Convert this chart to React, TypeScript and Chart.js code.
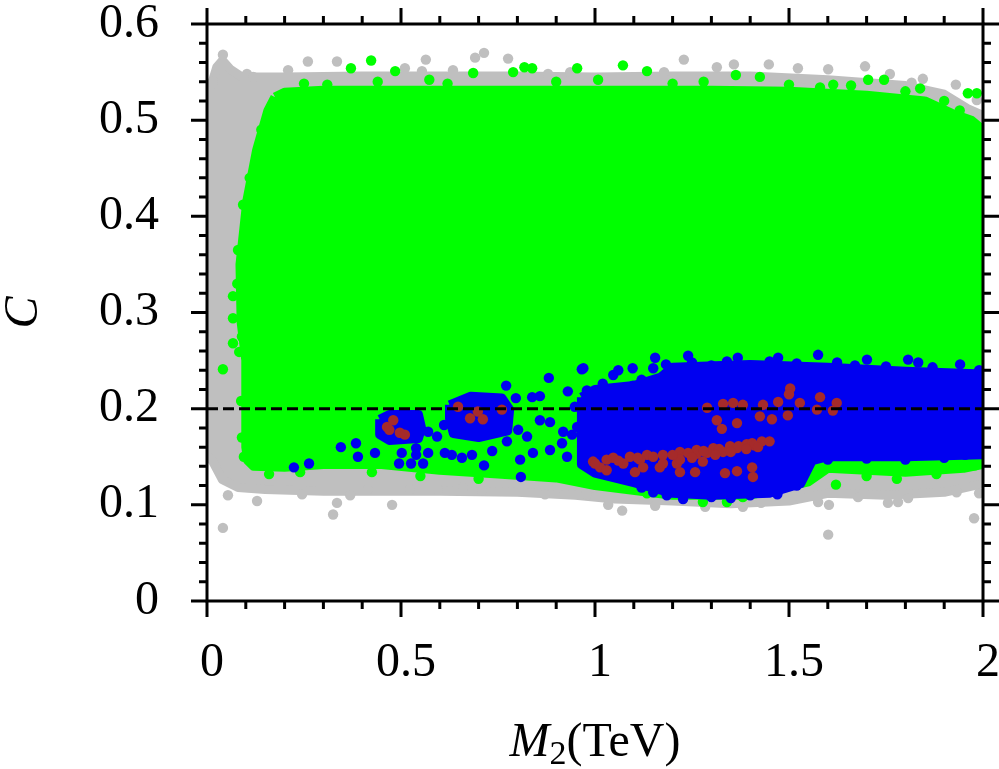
import React, { useEffect, useRef } from 'react';
import { Chart, registerables } from 'chart.js';

Chart.register(...registerables);

// tick positions
const xMajor = [0, 0.5, 1, 1.5, 2];
const xMinor = [0.1, 0.2, 0.3, 0.4, 0.6, 0.7, 0.8, 0.9, 1.1, 1.2, 1.3, 1.4, 1.6, 1.7, 1.8, 1.9];
const yMajor = [0, 0.1, 0.2, 0.3, 0.4, 0.5, 0.6];
const yMinor = [0.02, 0.04, 0.06, 0.08, 0.12, 0.14, 0.16, 0.18, 0.22, 0.24, 0.26, 0.28,
    0.32, 0.34, 0.36, 0.38, 0.42, 0.44, 0.46, 0.48, 0.52, 0.54, 0.56, 0.58];

// outline of the dense grey cloud
const grayCloud = [
    [0.0, 0.525], [0.01, 0.535], [0.025, 0.555], [0.04, 0.562], [0.06, 0.553], [0.09, 0.545],
    [0.2, 0.545], [0.4, 0.546], [0.6, 0.546], [0.8, 0.546], [1.0, 0.545], [1.2, 0.546],
    [1.4, 0.546], [1.6, 0.542], [1.8, 0.536], [1.9, 0.527], [1.96, 0.512], [2.0, 0.505],
    [2.0, 0.122], [1.9, 0.113], [1.75, 0.11], [1.6, 0.112], [1.5, 0.104], [1.35, 0.101],
    [1.2, 0.104], [1.05, 0.106], [0.95, 0.11], [0.8, 0.113], [0.6, 0.114], [0.45, 0.114],
    [0.3, 0.114], [0.15, 0.116], [0.08, 0.118], [0.04, 0.126], [0.015, 0.145], [0.0, 0.152],
    [0.0, 0.525]
];
const graySpots = [
    [0.041, 0.568], [0.015, 0.54], [0.103, 0.548], [0.119, 0.545], [0.209, 0.552], [0.26, 0.561],
    [0.335, 0.561], [0.51, 0.554], [0.564, 0.563], [0.554, 0.551], [0.691, 0.565], [0.714, 0.57],
    [0.776, 0.564], [0.634, 0.552], [0.879, 0.548], [0.936, 0.55], [0.982, 0.54], [1.229, 0.563],
    [1.314, 0.555], [1.358, 0.558], [1.448, 0.558], [1.523, 0.554], [1.601, 0.553], [1.696, 0.556],
    [1.76, 0.548], [1.816, 0.539], [1.845, 0.543], [1.93, 0.537], [1.907, 0.518], [1.984, 0.521],
    [1.178, 0.55], [1.044, 0.543],
    [0.054, 0.11], [0.129, 0.104], [0.245, 0.111], [0.325, 0.09], [0.335, 0.102], [0.369, 0.11],
    [0.477, 0.1], [0.415, 0.116], [0.523, 0.116], [0.595, 0.116], [0.66, 0.118], [0.709, 0.115],
    [0.768, 0.126], [0.871, 0.111], [0.902, 0.118], [0.979, 0.111], [0.041, 0.076],
    [1.034, 0.1], [1.07, 0.094], [1.155, 0.099], [1.284, 0.098], [1.381, 0.098], [1.428, 0.102],
    [1.575, 0.103], [1.603, 0.1], [1.601, 0.069], [1.678, 0.108], [1.755, 0.102], [1.781, 0.103],
    [1.807, 0.107], [1.932, 0.113], [1.977, 0.086], [1.99, 0.112], [1.511, 0.109]
];

// outline of the green cloud
const greenCloud = [
    [0.175, 0.524], [0.2, 0.529], [0.3, 0.531], [0.5, 0.531], [0.7, 0.531], [0.9, 0.531],
    [1.1, 0.531], [1.3, 0.531], [1.5, 0.53], [1.7, 0.526], [1.85, 0.52], [1.92, 0.507],
    [1.97, 0.5], [2.0, 0.49], [2.0, 0.142], [1.95, 0.138], [1.8, 0.134], [1.6, 0.138],
    [1.55, 0.124], [1.4, 0.11], [1.2, 0.11], [1.0, 0.12], [0.9, 0.128], [0.75, 0.132],
    [0.6, 0.136], [0.45, 0.142], [0.3, 0.142], [0.2, 0.139], [0.12, 0.14], [0.105, 0.146],
    [0.1, 0.16], [0.1, 0.2], [0.1, 0.25], [0.088, 0.29], [0.085, 0.35], [0.103, 0.417],
    [0.128, 0.469], [0.157, 0.51], [0.175, 0.524]
];
const greenSpots = [
    [0.423, 0.562], [0.371, 0.554], [0.485, 0.551], [0.686, 0.549], [0.818, 0.555], [0.838, 0.554],
    [0.954, 0.554], [0.573, 0.542], [0.789, 0.55], [1.072, 0.557], [1.134, 0.551], [1.363, 0.547],
    [1.425, 0.545], [1.614, 0.537], [1.704, 0.542], [1.745, 0.542], [1.838, 0.533], [1.961, 0.528],
    [1.984, 0.528], [1.008, 0.542], [1.58, 0.534],
    [0.25, 0.538], [0.31, 0.537], [0.44, 0.54], [0.62, 0.538], [0.9, 0.54], [1.2, 0.538],
    [1.28, 0.54], [1.5, 0.537], [1.66, 0.536], [1.8, 0.53], [1.9, 0.52], [1.94, 0.51],
    [0.067, 0.317], [0.067, 0.294], [0.08, 0.365], [0.093, 0.412], [0.041, 0.241], [0.067, 0.268],
    [0.09, 0.275], [0.083, 0.259], [0.088, 0.208], [0.09, 0.17], [0.095, 0.15],
    [0.11, 0.44], [0.14, 0.49], [0.078, 0.33],
    [0.858, 0.133], [0.425, 0.134], [1.278, 0.103], [1.34, 0.103], [1.134, 0.112], [1.621, 0.121],
    [1.778, 0.127], [1.979, 0.141], [1.381, 0.108], [0.16, 0.132], [0.24, 0.134], [0.55, 0.13],
    [0.7, 0.127], [1.7, 0.13], [1.88, 0.132]
];

// outlines of the blue clusters
const blueMain = [
    [0.965, 0.212], [1.0, 0.22], [1.1, 0.224], [1.17, 0.233], [1.2, 0.243], [1.4, 0.246],
    [1.6, 0.243], [1.8, 0.239], [2.0, 0.236], [2.0, 0.152], [1.8, 0.15], [1.6, 0.15],
    [1.56, 0.146], [1.53, 0.122], [1.45, 0.112], [1.3, 0.11], [1.2, 0.112], [1.1, 0.123],
    [1.0, 0.133], [0.965, 0.142], [0.965, 0.212]
];
const blueLeft = [
    [0.445, 0.189], [0.47, 0.194], [0.545, 0.194], [0.553, 0.18], [0.545, 0.169],
    [0.47, 0.167], [0.445, 0.173], [0.445, 0.189]
];
const blueMid = [
    [0.625, 0.204], [0.68, 0.213], [0.76, 0.211], [0.78, 0.199], [0.775, 0.177], [0.7, 0.17],
    [0.635, 0.174], [0.625, 0.19], [0.625, 0.204]
];
const blueSpots = [
    [0.224, 0.139], [0.263, 0.143], [0.345, 0.16], [0.384, 0.164], [0.389, 0.15], [0.433, 0.154],
    [0.495, 0.143], [0.502, 0.154], [0.526, 0.143], [0.539, 0.159], [0.539, 0.152], [0.557, 0.143],
    [0.57, 0.154], [0.57, 0.176], [0.593, 0.171], [0.611, 0.183], [0.613, 0.154], [0.631, 0.152],
    [0.657, 0.149], [0.683, 0.152], [0.714, 0.141], [0.735, 0.156], [0.771, 0.224], [0.773, 0.166],
    [0.796, 0.211], [0.802, 0.178], [0.809, 0.129], [0.825, 0.171], [0.838, 0.212], [0.858, 0.213],
    [0.858, 0.188], [0.881, 0.232], [0.884, 0.186], [0.884, 0.157], [0.84, 0.154], [0.807, 0.147],
    [0.915, 0.164], [0.918, 0.176], [0.93, 0.218], [0.928, 0.15], [0.941, 0.173], [0.954, 0.181],
    [0.966, 0.241], [0.979, 0.219], [0.948, 0.202],
    [0.97, 0.242], [1.047, 0.235], [1.06, 0.24], [1.097, 0.242], [1.098, 0.224], [1.073, 0.217],
    [1.155, 0.253], [1.15, 0.242], [1.183, 0.246], [1.24, 0.255], [1.211, 0.221], [1.34, 0.249],
    [1.368, 0.253], [1.472, 0.253], [1.575, 0.256], [1.624, 0.248], [1.701, 0.251], [1.807, 0.251],
    [1.833, 0.248], [1.941, 0.246],
    [1.25, 0.248], [1.3, 0.245], [1.45, 0.249], [1.52, 0.247], [1.67, 0.245], [1.75, 0.244],
    [1.87, 0.243], [1.99, 0.24], [1.02, 0.226], [1.12, 0.23],
    [1.185, 0.11], [1.227, 0.106], [1.09, 0.126], [1.026, 0.133], [1.954, 0.152],
    [1.12, 0.118], [1.15, 0.113], [1.3, 0.108], [1.35, 0.107], [1.4, 0.11], [1.47, 0.111],
    [1.52, 0.12], [1.6, 0.147], [1.7, 0.148], [1.8, 0.147], [1.9, 0.149]
];

// brown points
const brownSpots = [
    [0.464, 0.181], [0.48, 0.188], [0.497, 0.175], [0.51, 0.173], [0.47, 0.178],
    [0.647, 0.202], [0.678, 0.19], [0.698, 0.197], [0.711, 0.189], [0.76, 0.199],
    [0.995, 0.145], [1.047, 0.149], [1.09, 0.15], [1.134, 0.152], [1.175, 0.152], [1.219, 0.155],
    [1.262, 0.157], [1.305, 0.159], [1.348, 0.161], [1.391, 0.163], [1.43, 0.166],
    [1.013, 0.139], [1.073, 0.143], [1.167, 0.139], [1.211, 0.143], [1.219, 0.147], [1.262, 0.153],
    [1.289, 0.154], [1.33, 0.155], [1.366, 0.159], [1.405, 0.164], [1.278, 0.145], [1.175, 0.143],
    [1.116, 0.147], [1.03, 0.147],
    [1.06, 0.146], [1.11, 0.149], [1.15, 0.15], [1.2, 0.152], [1.24, 0.154], [1.28, 0.156],
    [1.32, 0.158], [1.37, 0.161], [1.41, 0.162], [1.45, 0.166], [1.25, 0.149], [1.31, 0.152],
    [1.35, 0.155], [1.39, 0.158], [1.42, 0.16],
    [1.03, 0.136], [1.103, 0.134], [1.124, 0.139], [1.219, 0.134], [1.258, 0.134], [1.335, 0.133],
    [1.366, 0.135], [1.405, 0.139], [1.407, 0.129], [1.0, 0.143],
    [1.503, 0.221], [1.58, 0.212], [1.623, 0.206], [1.356, 0.206], [1.381, 0.204], [1.433, 0.204],
    [1.472, 0.207], [1.528, 0.206], [1.572, 0.199], [1.613, 0.198], [1.289, 0.201], [1.33, 0.205],
    [1.314, 0.188], [1.366, 0.185], [1.327, 0.179], [1.425, 0.192], [1.456, 0.189], [1.497, 0.193],
    [1.5, 0.215]
];

const cutLine = [[0, 0.2], [2, 0.2]];

const GRAY = '#bfbfbf';
const GREEN = '#00ff00';
const BLUE = '#0000f0';
const BROWN = '#a52a2a';
const SERIF = '"Liberation Serif", "DejaVu Serif", serif';

const pts = (arr: number[][]) => arr.map(([x, y]) => ({ x, y }));

function cloud(data: number[][], color: string, order: number) {
    return {
        type: 'line' as const,
        data: pts(data),
        backgroundColor: color,
        borderColor: color,
        borderWidth: 9,
        borderJoinStyle: 'round' as const,
        pointRadius: 0,
        tension: 0,
        fill: 'shape',
        order
    };
}

function spots(data: number[][], color: string, order: number) {
    return {
        type: 'scatter' as const,
        data: pts(data),
        backgroundColor: color,
        borderColor: color,
        borderWidth: 0,
        pointRadius: 5.2,
        order
    };
}

// frame, tick marks and axis titles
const framePlugin = {
    id: 'frame',
    afterDraw(chart: any) {
        const { ctx, chartArea: a, scales } = chart;
        const xs = scales.x;
        const ys = scales.y;
        ctx.save();
        ctx.strokeStyle = '#000';
        ctx.lineWidth = 3;
        ctx.lineCap = 'butt';
        ctx.strokeRect(a.left, a.top, a.right - a.left, a.bottom - a.top);
        const tick = (vals: number[], len: number) => {
            ctx.beginPath();
            vals.forEach(v => {
                const px = xs.getPixelForValue(v);
                ctx.moveTo(px, a.bottom); ctx.lineTo(px, a.bottom + len);
                ctx.moveTo(px, a.top); ctx.lineTo(px, a.top - len);
            });
            ctx.stroke();
        };
        const ytick = (vals: number[], len: number) => {
            ctx.beginPath();
            vals.forEach(v => {
                const py = ys.getPixelForValue(v);
                ctx.moveTo(a.left, py); ctx.lineTo(a.left - len, py);
                ctx.moveTo(a.right, py); ctx.lineTo(a.right + len, py);
            });
            ctx.stroke();
        };
        tick(xMajor, 16);
        tick(xMinor, 8);
        ytick(yMajor, 16);
        ytick(yMinor, 8);

        // x title: M_2(TeV)
        ctx.fillStyle = '#000';
        ctx.textBaseline = 'alphabetic';
        ctx.textAlign = 'left';
        const cx = (a.left + a.right) / 2;
        const base = 756;
        ctx.font = 'italic 48px ' + SERIF;
        const wM = ctx.measureText('M').width;
        ctx.font = '34px ' + SERIF;
        const w2 = ctx.measureText('2').width;
        ctx.font = '48px ' + SERIF;
        const wT = ctx.measureText('(TeV)').width;
        let x0 = cx - (wM + w2 + wT) / 2;
        ctx.font = 'italic 48px ' + SERIF;
        ctx.fillText('M', x0, base);
        x0 += wM;
        ctx.font = '34px ' + SERIF;
        ctx.fillText('2', x0, base + 8);
        x0 += w2;
        ctx.font = '48px ' + SERIF;
        ctx.fillText('(TeV)', x0, base);

        // y title: C
        ctx.translate(24, (a.top + a.bottom) / 2);
        ctx.rotate(-Math.PI / 2);
        ctx.textAlign = 'center';
        ctx.textBaseline = 'middle';
        ctx.font = 'italic 48px ' + SERIF;
        ctx.fillText('C', 0, 0);
        ctx.restore();
    }
};

export default function App() {
    const canvas = useRef<HTMLCanvasElement>(null);

    useEffect(() => {
        document.body.style.margin = '0';
        const chart = new Chart(canvas.current as HTMLCanvasElement, {
            type: 'scatter',
            data: {
                datasets: [
                    {
                        type: 'line',
                        data: pts(cutLine),
                        borderColor: '#000',
                        borderWidth: 3,
                        borderDash: [11, 5],
                        pointRadius: 0,
                        fill: false,
                        order: 0
                    } as any,
                    spots(brownSpots, BROWN, 1),
                    spots(blueSpots, BLUE, 2),
                    cloud(blueMain, BLUE, 3),
                    cloud(blueLeft, BLUE, 3),
                    cloud(blueMid, BLUE, 3),
                    spots(greenSpots, GREEN, 4),
                    cloud(greenCloud, GREEN, 5),
                    spots(graySpots, GRAY, 6),
                    cloud(grayCloud, GRAY, 7)
                ] as any
            },
            options: {
                animation: false,
                responsive: false,
                devicePixelRatio: 1,
                layout: { padding: { top: 24, right: 16, left: 0, bottom: 0 } },
                plugins: {
                    legend: { display: false },
                    tooltip: { enabled: false }
                },
                scales: {
                    x: {
                        type: 'linear',
                        min: 0,
                        max: 2,
                        grid: { display: false, drawTicks: false },
                        border: { display: false },
                        afterFit: (s: any) => {
                            s.height = 168;
                            s.paddingLeft = 0;
                            s.paddingRight = 0;
                        },
                        afterBuildTicks: (s: any) => { s.ticks = xMajor.map(v => ({ value: v })); },
                        ticks: {
                            color: '#000',
                            padding: 34,
                            labelOffset: 5,
                            maxRotation: 0,
                            font: { family: SERIF, size: 48 },
                            callback: (v: any) => String(v)
                        }
                    },
                    y: {
                        type: 'linear',
                        min: 0,
                        max: 0.6,
                        grid: { display: false, drawTicks: false },
                        border: { display: false },
                        afterFit: (s: any) => {
                            s.width = 207;
                            s.paddingTop = 0;
                            s.paddingBottom = 0;
                        },
                        afterBuildTicks: (s: any) => { s.ticks = yMajor.map(v => ({ value: v })); },
                        ticks: {
                            color: '#000',
                            padding: 48,
                            font: { family: SERIF, size: 48 },
                            callback: (v: any) => String(v)
                        }
                    }
                }
            },
            plugins: [framePlugin]
        });
        return () => {
            chart.destroy();
        };
    }, []);

    return (
        <div style={{ width: 999, height: 769 }}>
            <canvas ref={canvas} width={999} height={769}></canvas>
        </div>
    );
}
